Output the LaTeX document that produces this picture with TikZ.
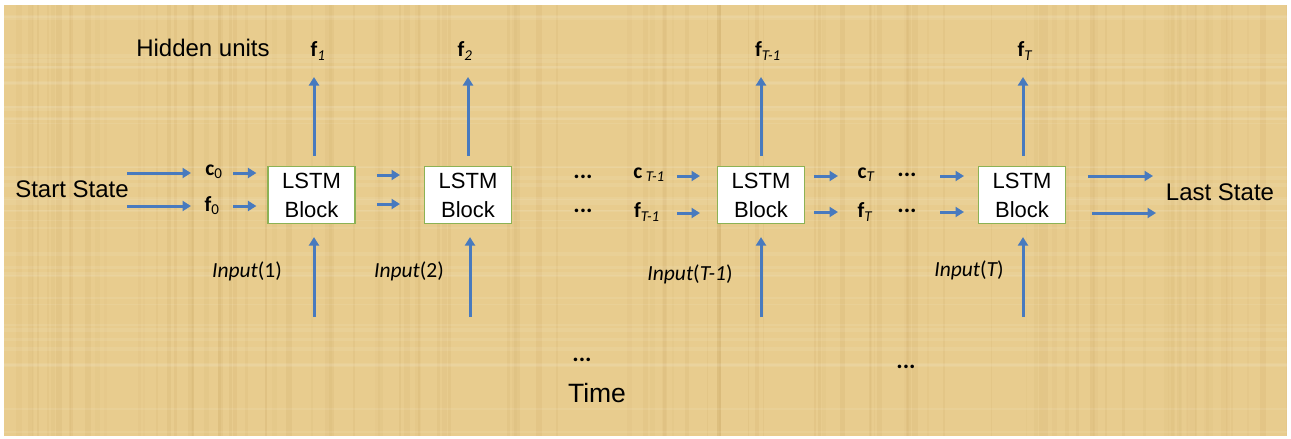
\documentclass[tikz,border=0pt]{standalone}
\usepackage{fontspec}
\setmainfont{Liberation Sans}
\newfontfamily\calfont{Carlito}
\usetikzlibrary{arrows.meta}
\definecolor{parch}{RGB}{232,204,142}
\definecolor{streak}{RGB}{196,160,90}
\definecolor{arrblue}{RGB}{72,122,190}
\definecolor{boxgreen}{RGB}{140,178,85}
\tikzset{
  arr/.style={draw=arrblue, line width=3pt, -{Triangle[length=8.5pt,width=10pt]}},
  lstm/.style={draw=boxgreen, line width=1.2pt, fill=white, minimum width=87pt, minimum height=57pt, inner sep=0pt, align=center, font=\fontsize{22}{29}\selectfont},
  sans/.style={font=\fontsize{24}{28}\selectfont, inner sep=0pt},
  lab/.style={font=\calfont\fontsize{21.5}{24}\selectfont, inner sep=0pt},
  dots/.style={font=\calfont\bfseries\fontsize{24}{26}\selectfont, inner sep=0pt}
}
\begin{document}
\begin{tikzpicture}[x=1pt,y=-1pt]
\useasboundingbox (0,0) rectangle (1291,439);
\fill[white] (0,0) rectangle (1291,439);
\fill[parch] (4,5) rectangle (1287,436);
% parchment texture
\pgfmathsetseed{17}
\begin{scope}
\clip (4,5) rectangle (1287,436);
\foreach \i in {1,...,110}{
  \pgfmathsetmacro{\xx}{4+rnd*1283}
  \pgfmathsetmacro{\ww}{1+rnd*5}
  \pgfmathsetmacro{\oo}{0.05+rnd*0.1}
  \fill[streak, opacity=\oo] (\xx,5) rectangle ++(\ww,431);
}
\foreach \i in {1,...,40}{
  \pgfmathsetmacro{\yy}{5+rnd*431}
  \pgfmathsetmacro{\hh}{1+rnd*3}
  \fill[white, opacity=0.08] (4,\yy) rectangle ++(1283,\hh);
}
\end{scope}
% boxes
\node[lstm] (b1) at (311.5,195) {LSTM\\Block};
\node[lstm] (b2) at (468,195) {LSTM\\Block};
\node[lstm] (b3) at (761,195) {LSTM\\Block};
\node[lstm] (b4) at (1022,195) {LSTM\\Block};
% top labels
\node[sans] (hid) at (203,48) {Hidden units};
\node[lab] (f1) at (318,51) {\bfseries f\textsubscript{\mdseries\itshape 1}};
\node[lab] (f2) at (465,51) {\bfseries f\textsubscript{\mdseries\itshape 2}};
\node[lab] (fT1) at (768,51) {\bfseries f\textsubscript{\mdseries\itshape T-1}};
\node[lab] (fT) at (1025,51) {\bfseries f\textsubscript{\mdseries\itshape T}};
% side labels
\node[sans] (ss) at (72,189) {Start State};
\node[sans] (ls) at (1220,192) {Last State};
\node[lab] (c0) at (214,172) {{\bfseries c}\textsubscript{0}};
\node[lab] (f0) at (212,206) {{\bfseries f}\textsubscript{0}};
\node[dots] (d1) at (583,177) {...};
\node[dots] (d2) at (583,211) {...};
\node[lab] (cTm) at (649,175) {{\bfseries c}\,\textsubscript{\itshape T-1}};
\node[lab] (fTm) at (647,212) {{\bfseries f}\textsubscript{\itshape T-1}};
\node[lab] (cT) at (866,175) {{\bfseries c}\textsubscript{\itshape T}};
\node[lab] (fTb) at (865,212) {{\bfseries f}\textsubscript{\itshape T}};
\node[dots] (d3) at (907,175) {...};
\node[dots] (d4) at (907,211) {...};
% inputs
\node[lab] (in1) at (247,271) {\itshape Input\upshape(1)};
\node[lab] (in2) at (409,271) {\itshape Input\upshape(2)};
\node[lab] (inT1) at (690,274) {\itshape Input\upshape(\itshape T-1\upshape)};
\node[lab] (inT) at (969,270) {\itshape Input\upshape(\itshape T\upshape)};
% bottom
\node[dots] (d5) at (582,360) {...};
\node[dots] (d6) at (906,367) {...};
\node[sans, font=\fontsize{26.5}{30}\selectfont] (time) at (597,393) {Time};
% up arrows (hidden units)
\foreach \b/\x in {b1/314, b2/468, b3/761, b4/1023}{
  \coordinate (u\b) at (\x,77);
  \draw[arr, shorten <=10pt] (u\b |- \b.north) -- (u\b);
}
% input arrows
\foreach \b/\x in {b1/314, b2/470, b3/761, b4/1023}{
  \coordinate (s\b) at (\x,317);
  \draw[arr, shorten >=13pt] (s\b) -- (s\b |- \b.south);
}
% named arrow end points
\coordinate (ssa1) at (127,173); \coordinate (ssb1) at (191,173);
\coordinate (ssa2) at (127,206); \coordinate (ssb2) at (191,206);
\coordinate (c0s) at (233,173); \coordinate (f0s) at (233,206);
\coordinate (m1a) at (377,175); \coordinate (m1b) at (400,175);
\coordinate (m2a) at (377,204); \coordinate (m2b) at (400,204);
\coordinate (p1a) at (677,176); \coordinate (p1b) at (700,176);
\coordinate (p2a) at (677,213); \coordinate (p2b) at (700,213);
\coordinate (q1a) at (814,176); \coordinate (q1b) at (838,176);
\coordinate (q2a) at (814,212); \coordinate (q2b) at (838,212);
\coordinate (r1a) at (940,176); \coordinate (r1b) at (964,176);
\coordinate (r2a) at (940,212); \coordinate (r2b) at (964,212);
\coordinate (l1a) at (1088,176); \coordinate (l1b) at (1153,176);
\coordinate (l2a) at (1092,213); \coordinate (l2b) at (1156,213);
% start state
\draw[arr] (ssa1) -- (ssb1);
\draw[arr] (ssa2) -- (ssb2);
% c0 f0 to b1
\draw[arr, shorten >=11pt] (c0s) -- (c0s -| b1.west);
\draw[arr, shorten >=11pt] (f0s) -- (f0s -| b1.west);
% b1 -> b2
\draw[arr] (m1a) -- (m1b);
\draw[arr] (m2a) -- (m2b);
% cT-1 -> b3
\draw[arr] (p1a) -- (p1b);
\draw[arr] (p2a) -- (p2b);
% b3 -> cT
\draw[arr] (q1a) -- (q1b);
\draw[arr] (q2a) -- (q2b);
% dots -> b4
\draw[arr] (r1a) -- (r1b);
\draw[arr] (r2a) -- (r2b);
% b4 -> last state
\draw[arr] (l1a) -- (l1b);
\draw[arr] (l2a) -- (l2b);
\end{tikzpicture}
\end{document}
